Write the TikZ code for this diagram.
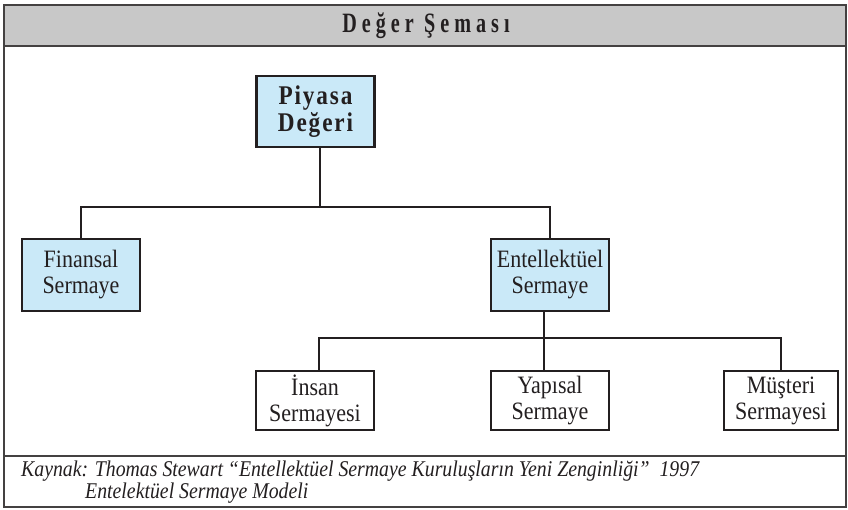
\documentclass[tikz,border=0pt]{standalone}
\usepackage{fontspec}
\setmainfont{Liberation Serif}[FakeStretch=0.88]
\newfontfamily\titlefont[LetterSpace=18,FakeStretch=0.72]{Liberation Serif}
\newfontfamily\headfont[LetterSpace=7,FakeStretch=0.86]{Liberation Serif}
\newfontfamily\notefont[FakeStretch=0.88]{Liberation Serif}
\usepackage{tikz}
\usetikzlibrary{positioning,calc}
\definecolor{ink}{HTML}{231F20}
\definecolor{barfill}{HTML}{C8C8C8}
\definecolor{boxblue}{HTML}{CAE9F8}

\begin{document}
\begin{tikzpicture}[x=1pt, y=-1pt,
  font=\fontsize{25}{26}\selectfont, text=ink,
  frame/.style={draw=ink!85, line width=1.6pt},
  unit/.style={draw=ink, line width=2.4pt, align=center, inner sep=0pt, minimum width=118pt, minimum height=72pt},
  core/.style={unit, fill=boxblue},
  part/.style={unit, fill=white, minimum height=59pt},
  link/.style={draw=ink, line width=2pt},
]
\useasboundingbox (0,0) rectangle (848,510);
\draw[frame, fill=barfill] (4,5) rectangle (846,46);
\draw[frame] (4,46) rectangle (846,507);
\draw[frame] (4,456) -- (846,456);
\node[font=\titlefont\bfseries\fontsize{28}{28}\selectfont] (title) at (426,26) {Değer Şeması};
\node[core, minimum height=71pt, font=\headfont\bfseries\fontsize{27}{27}\selectfont] (piyasa) at (315.5,111.5) {Piyasa\\Değeri};
\node[core] (finansal) at (81,275) {Finansal\\Sermaye};
\node[core] (entel) at (550,275) {Entellektüel\\Sermaye};
\node[part] (insan) at (315,400.5) {İnsan\\Sermayesi};
\node[part] (yapisal) at (550,400.5) {Yapısal\\Sermaye};
\node[part, minimum width=114pt] (musteri) at (781,400.5) {Müşteri\\Sermayesi};
\coordinate (fork) at (320,207);
\coordinate (subfork) at (544,338);
\draw[link] (piyasa.south -| fork) -- (fork);
\draw[link] (finansal.north) |- (fork) -| (entel.north);
\draw[link] (entel.south -| subfork) -- (subfork);
\draw[link] ([xshift=4pt]insan.north) |- (subfork) -| (musteri.north);
\draw[link] (subfork) -- (yapisal.north -| subfork);
\node[anchor=north west, align=left, inner sep=0pt, font=\notefont\itshape\fontsize{22.5}{19.5}\selectfont] (source) at (21,461)
  {Kaynak: Thomas Stewart “Entellektüel Sermaye Kuruluşların Yeni Zenginliği”\ \ 1997\\\hspace{64pt}Entelektüel Sermaye Modeli};
\end{tikzpicture}
\end{document}
